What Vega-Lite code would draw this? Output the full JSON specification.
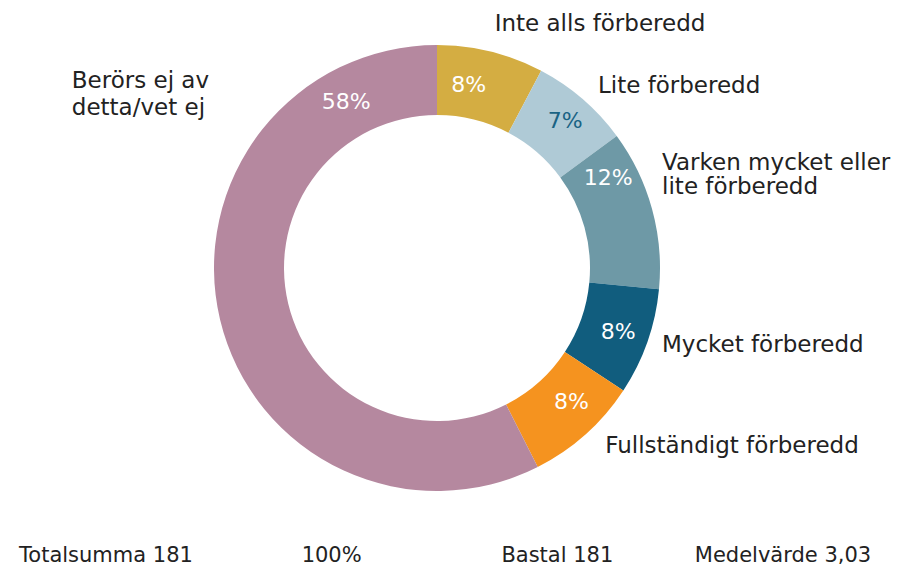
{
  "$schema": "https://vega.github.io/schema/vega-lite/v6.json",
  "autosize": "none",
  "width": 874,
  "height": 536,
  "padding": {"left": 0, "top": 0, "right": 46, "bottom": 32},
  "background": "white",
  "config": {"view": {"stroke": null}, "text": {"font": "DejaVu Sans"}},
  "datasets": {
    "answers": [
      {"o": 1, "cat": "Inte alls förberedd", "label": "Inte alls förberedd", "n": 14, "pct": "8%"},
      {"o": 2, "cat": "Lite förberedd", "label": "Lite förberedd", "n": 13, "pct": "7%"},
      {"o": 3, "cat": "Varken mycket eller lite förberedd", "label": "Varken mycket eller\nlite förberedd", "n": 21, "pct": "12%"},
      {"o": 4, "cat": "Mycket förberedd", "label": "Mycket förberedd", "n": 14, "pct": "8%"},
      {"o": 5, "cat": "Fullständigt förberedd", "label": "Fullständigt förberedd", "n": 15, "pct": "8%"},
      {"o": 6, "cat": "Berörs ej av detta/vet ej", "label": "Berörs ej av\ndetta/vet ej", "n": 104, "pct": "58%"}
    ],
    "footer": [
      {"t": "Totalsumma 181"},
      {"t": "100%"},
      {"t": "Bastal 181"},
      {"t": "Medelvärde 3,03"}
    ]
  },
  "layer": [
    {
      "data": {"name": "answers"},
      "encoding": {
        "theta": {"field": "n", "type": "quantitative", "stack": true},
        "order": {"field": "o", "type": "ordinal", "sort": "ascending"}
      },
      "layer": [
        {
          "mark": {"type": "arc", "outerRadius": 223, "innerRadius": 153},
          "encoding": {
            "color": {
              "field": "cat", "type": "nominal", "legend": null,
              "scale": {
                "domain": ["Inte alls förberedd", "Lite förberedd", "Varken mycket eller lite förberedd", "Mycket förberedd", "Fullständigt förberedd", "Berörs ej av detta/vet ej"],
                "range": ["#D4AD42", "#AFCAD6", "#6E99A6", "#115D7E", "#F5931F", "#B5889F"]
              }
            }
          }
        },
        {
          "mark": {"type": "text", "radius": 190, "fontSize": 22, "align": "center", "baseline": "middle", "dx": -14, "dy": 1, "fill": "white"},
          "encoding": {"text": {"condition": {"test": "datum.o == 1", "field": "pct"}, "value": ""}}
        },
        {
          "mark": {"type": "text", "radius": 190, "fontSize": 22, "align": "center", "baseline": "middle", "dx": 4, "dy": -3, "fill": "#1A6384"},
          "encoding": {"text": {"condition": {"test": "datum.o == 2", "field": "pct"}, "value": ""}}
        },
        {
          "mark": {"type": "text", "radius": 190, "fontSize": 22, "align": "center", "baseline": "middle", "dx": -12, "dy": -39, "fill": "white"},
          "encoding": {"text": {"condition": {"test": "datum.o == 3", "field": "pct"}, "value": ""}}
        },
        {
          "mark": {"type": "text", "radius": 190, "fontSize": 22, "align": "center", "baseline": "middle", "dx": 2, "dy": 1, "fill": "white"},
          "encoding": {"text": {"condition": {"test": "datum.o == 4", "field": "pct"}, "value": ""}}
        },
        {
          "mark": {"type": "text", "radius": 190, "fontSize": 22, "align": "center", "baseline": "middle", "dx": 8, "dy": -8, "fill": "white"},
          "encoding": {"text": {"condition": {"test": "datum.o == 5", "field": "pct"}, "value": ""}}
        },
        {
          "mark": {"type": "text", "radius": 190, "fontSize": 22, "align": "center", "baseline": "middle", "dx": 94, "dy": -210, "fill": "white"},
          "encoding": {"text": {"condition": {"test": "datum.o == 6", "field": "pct"}, "value": ""}}
        },
        {
          "mark": {"type": "text", "radius": 248, "fontSize": 23, "align": "left", "baseline": "middle", "dx": -2, "dy": -3, "fill": "#222222"},
          "encoding": {"text": {"condition": {"test": "datum.o == 1", "field": "label"}, "value": ""}}
        },
        {
          "mark": {"type": "text", "radius": 248, "fontSize": 23, "align": "left", "baseline": "middle", "dx": -1, "dy": 6, "fill": "#222222"},
          "encoding": {"text": {"condition": {"test": "datum.o == 2", "field": "label"}, "value": ""}}
        },
        {
          "mark": {"type": "text", "radius": 248, "fontSize": 23, "align": "left", "baseline": "middle", "dx": -14, "dy": -39, "lineBreak": "\n", "lineHeight": 24, "fill": "#222222"},
          "encoding": {"text": {"condition": {"test": "datum.o == 3", "field": "label"}, "value": ""}}
        },
        {
          "mark": {"type": "text", "radius": 248, "fontSize": 23, "align": "left", "baseline": "middle", "dx": -9, "dy": -5, "fill": "#222222"},
          "encoding": {"text": {"condition": {"test": "datum.o == 4", "field": "label"}, "value": ""}}
        },
        {
          "mark": {"type": "text", "radius": 248, "fontSize": 23, "align": "left", "baseline": "middle", "dx": 3, "dy": -7, "fill": "#222222"},
          "encoding": {"text": {"condition": {"test": "datum.o == 5", "field": "label"}, "value": ""}}
        },
        {
          "mark": {"type": "text", "radius": 248, "fontSize": 23, "align": "left", "baseline": "middle", "dx": -124, "dy": -245, "lineBreak": "\n", "lineHeight": 27, "fill": "#222222"},
          "encoding": {"text": {"condition": {"test": "datum.o == 6", "field": "label"}, "value": ""}}
        }
      ]
    },
    {
      "data": {"name": "footer"},
      "mark": {"type": "text", "y": "height", "dy": 20, "fontSize": 21, "align": "center", "baseline": "middle", "fill": "#222222"},
      "encoding": {
        "x": {"field": "t", "type": "nominal", "axis": null, "sort": null, "scale": {"type": "point", "padding": 0, "range": [106, 783]}},
        "text": {"field": "t"}
      }
    }
  ]
}
